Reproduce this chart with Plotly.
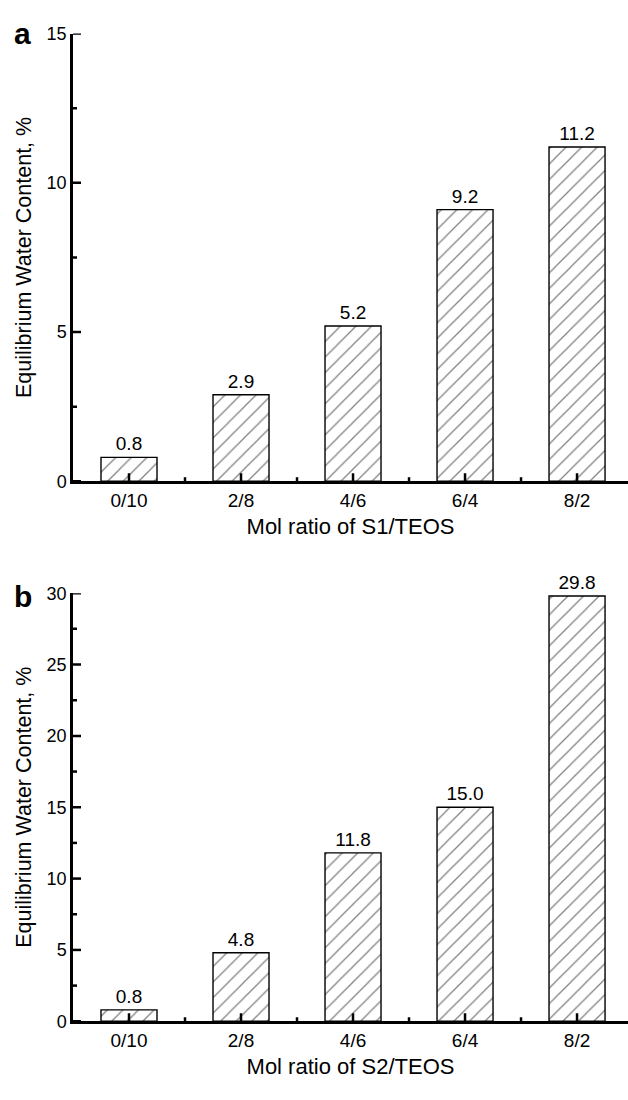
import plotly.graph_objects as go

categories = ["0/10", "2/8", "4/6", "6/4", "8/2"]
s1_values = [0.8, 2.9, 5.2, 9.1, 11.2]
s1_labels = ["0.8", "2.9", "5.2", "9.2", "11.2"]
s2_values = [0.8, 4.8, 11.8, 15.0, 29.8]
s2_labels = ["0.8", "4.8", "11.8", "15.0", "29.8"]
y1_ticks = [0, 5, 10, 15]
y2_ticks = [0, 5, 10, 15, 20, 25, 30]
x_title_top = "Mol ratio of S1/TEOS"
x_title_bottom = "Mol ratio of S2/TEOS"
y_title = "Equilibrium Water Content, %"

FONT = "Liberation Sans, Arial, sans-serif"
W, H = 628, 1100
xpos = list(range(len(categories)))
minor_x = [i + 0.5 for i in xpos[:-1]]
XRANGE = [-0.5, 4.455]

fig = go.Figure()

def add_bars(vals, labels, xa, ya):
    fig.add_trace(go.Bar(
        x=xpos, y=vals, text=labels, textposition="outside",
        textfont=dict(size=19, color="black", family=FONT),
        width=0.5, cliponaxis=False,
        marker=dict(color="white", line=dict(color="black", width=1.4),
                    pattern=dict(shape="/", fgcolor="#000000", bgcolor="white",
                                 size=11, solidity=0.11)),
        xaxis=xa, yaxis=ya, showlegend=False))

add_bars(s1_values, s1_labels, "x", "y")
add_bars(s2_values, s2_labels, "x2", "y2")

xdom = [73 / W, 1.0]
top_dom = [1 - 480 / H, 1 - 24 / H]
bot_dom = [1 - 1030 / H, 1 - 594 / H]

def xaxis_cfg(title, anchor):
    return dict(domain=xdom, anchor=anchor, range=XRANGE,
                tickmode="array", tickvals=xpos, ticktext=categories,
                ticks="", showline=True, linewidth=2.5, linecolor="black",
                showgrid=False, zeroline=False, layer="above traces",
                tickfont=dict(size=19, color="black", family=FONT),
                title=dict(text=title, standoff=9,
                           font=dict(size=22, color="black", family=FONT)))

def yaxis_cfg(ticks, anchor, dom):
    return dict(domain=dom, anchor=anchor, range=[0, ticks[-1]],
                tickmode="array", tickvals=ticks,
                ticks="", showline=True, linewidth=2.5, linecolor="black",
                showgrid=False, zeroline=False, layer="above traces",
                tickfont=dict(size=18, color="black", family=FONT),
                title=dict(text=y_title, standoff=10,
                           font=dict(size=21.5, color="black", family=FONT)))

shapes = []

def tick_shapes(xref, yref, yticks):
    tl = dict(color="black", width=2.5)
    # x-axis ticks (pointing up from the axis)
    for vals, ln in ((xpos, 8), (minor_x, 4)):
        for v in vals:
            shapes.append(dict(type="line", xref=xref, yref=yref,
                               ysizemode="pixel", yanchor=0, y0=0, y1=ln,
                               x0=v, x1=v, line=tl, layer="above"))
    # y-axis ticks (pointing right from the axis)
    yminor = [v + (yticks[1] - yticks[0]) / 2 for v in yticks[:-1]]
    for vals, ln in ((yticks, 8), (yminor, 4)):
        for v in vals:
            shapes.append(dict(type="line", xref=xref, yref=yref,
                               xsizemode="pixel", xanchor=XRANGE[0], x0=0, x1=ln,
                               y0=v, y1=v, line=tl, layer="above"))

tick_shapes("x", "y", y1_ticks)
tick_shapes("x2", "y2", y2_ticks)

fig.update_layout(
    width=W, height=H,
    margin=dict(l=0, r=0, t=0, b=0),
    paper_bgcolor="white", plot_bgcolor="white",
    font=dict(family=FONT, color="black"),
    xaxis=xaxis_cfg(x_title_top, "y"),
    yaxis=yaxis_cfg(y1_ticks, "x", top_dom),
    xaxis2=xaxis_cfg(x_title_bottom, "y2"),
    yaxis2=yaxis_cfg(y2_ticks, "x2", bot_dom),
    shapes=shapes,
    annotations=[
        dict(text="<b>a</b>", xref="paper", yref="paper", x=22 / W, y=1 - 24 / H,
             showarrow=False, font=dict(size=30, color="black", family=FONT),
             xanchor="center", yanchor="middle"),
        dict(text="<b>b</b>", xref="paper", yref="paper", x=23 / W, y=1 - 597 / H,
             showarrow=False, font=dict(size=30, color="black", family=FONT),
             xanchor="center", yanchor="middle"),
    ],
)

fig.write_html("out.html")
